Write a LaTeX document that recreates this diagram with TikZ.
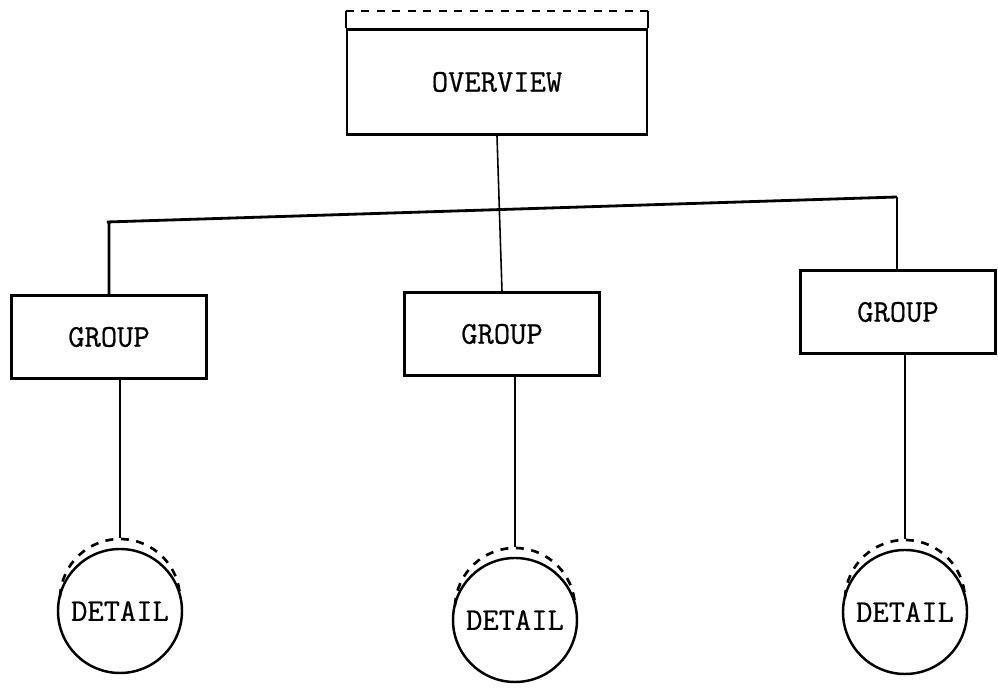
\documentclass[tikz,border=0pt]{standalone}
\usepackage{fontspec}
\newfontfamily\typefont{Latin Modern Mono}[FakeBold=0.6]
\usetikzlibrary{calc}

\tikzset{
    chart box/.style={
        draw,line width=1.6pt,
        minimum width=39mm,minimum height=16.5mm,
        font=\fontsize{18}{21}\typefont
    },
    detail circle/.style={
        draw,circle,line width=1.4pt,
        minimum size=24.8mm,inner sep=0pt,
        font=\fontsize{18}{21}\typefont
    },
    top dash/.style={line width=1.5pt,dash pattern=on 1.6mm off 1.5mm}
}

\begin{document}
\begin{tikzpicture}[x=0.2mm,y=-0.2mm]
        \useasboundingbox (0,0) rectangle (998,690);
        \node[chart box,minimum width=60mm,minimum height=21mm] (overview) at (497,82) {OVERVIEW};
        \foreach \name/\x/\y in {gleft/109/337,gmid/502/334,gright/898/312}
            \node[chart box] (\name) at (\x,\y) {GROUP};
        \foreach \name/\x/\y in {dleft/120/611,dmid/515/620,dright/905/612}
            \node[detail circle] (\name) at (\x,\y) {DETAIL};
        % dashed edge over the overview
        \draw[line width=1.2pt] (overview.north west) -- ++(0,3.4mm) coordinate (tl);
        \draw[line width=1.2pt] (overview.north east) -- ++(0,3.4mm) coordinate (tr);
        \draw[top dash] (tl) -- (tr);
        % tree
        \coordinate (barL) at (107,222);
        \coordinate (barR) at (897,197);
        \draw[line width=1.6pt] (gleft.north) |- (barL) -- (barR);
        \draw[line width=1.1pt] (barR) -- (barR |- gright.north);
        \draw[line width=0.9pt] (overview.south) -- (gmid.north);
        \foreach \g/\d in {gleft/dleft,gmid/dmid,gright/dright}{
            \draw[line width=1.2pt] (\d.north |- \g.south) -- ([yshift=2mm]\d.north);
            \draw[top dash] ([yshift=2.4mm]\d.center) ++(178:12mm) arc[start angle=178,end angle=2,radius=12mm];
        }
    \end{tikzpicture}
\end{document}
